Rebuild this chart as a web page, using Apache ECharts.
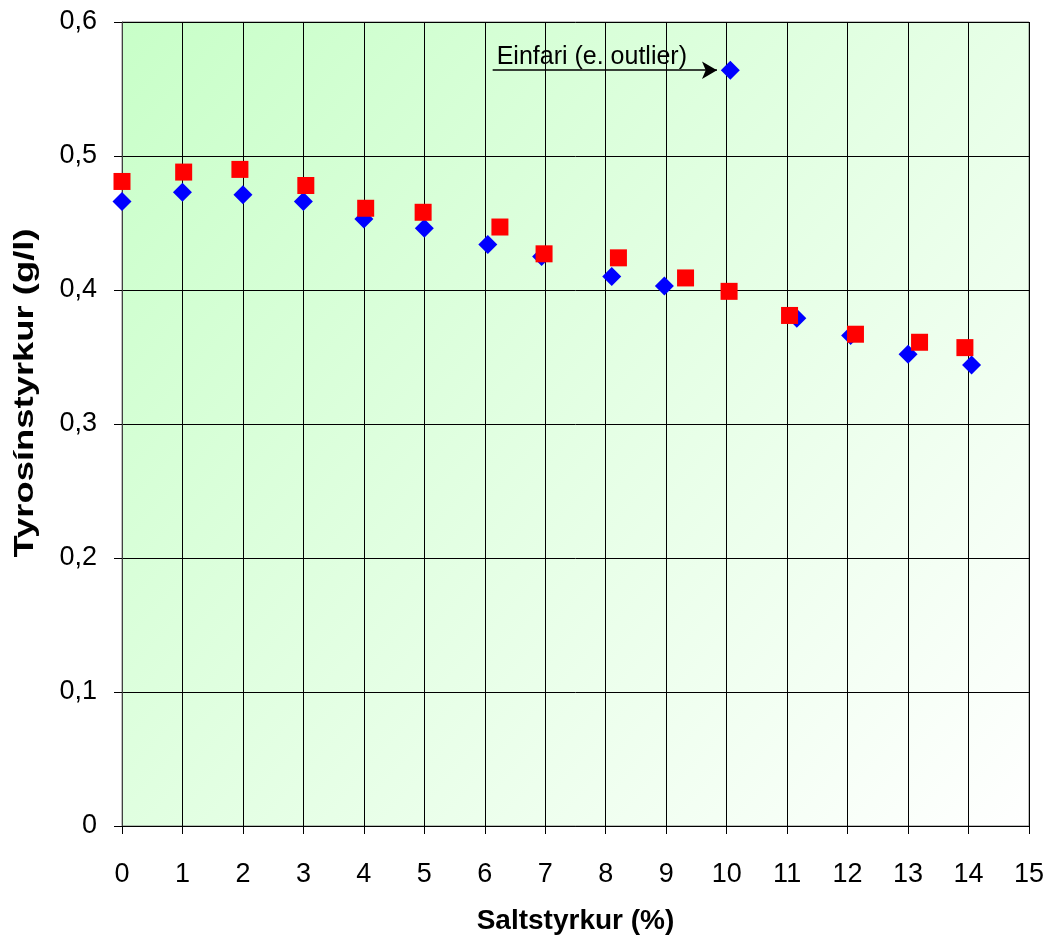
<!DOCTYPE html>
<html>
<head>
<meta charset="utf-8">
<script src="https://cdn.jsdelivr.net/npm/echarts@6/dist/echarts.min.js"></script>
<style>
  html, body { margin: 0; padding: 0; background: #ffffff; }
  #chart { width: 1047px; height: 939px; }
</style>
</head>
<body>
<div id="chart"></div>
<script>
// Tyrosine concentration vs. salt concentration, two replicate series
const saltBlue = [0, 1, 2, 3, 4, 5, 6.05, 6.94, 8.1, 8.97, 11.16, 12.05, 13.0, 14.05];
const tyrosineBlue = [0.466, 0.473, 0.471, 0.466, 0.453, 0.446, 0.434, 0.425, 0.410, 0.403, 0.379, 0.366, 0.352, 0.344];

const saltRed = [0, 1.02, 1.95, 3.04, 4.03, 4.98, 6.25, 6.98, 8.21, 9.32, 10.04, 11.04, 12.13, 13.19, 13.94];
const tyrosineRed = [0.481, 0.488, 0.490, 0.478, 0.461, 0.458, 0.447, 0.427, 0.424, 0.409, 0.399, 0.381, 0.367, 0.361, 0.357];

// The single outlier point and its label
const outlierSalt = 10.06;
const outlierTyrosine = 0.564;
const outlierLabel = 'Einfari (e. outlier)';
const arrowStartSalt = 6.13;

const xTicks = [0, 15, 1];      // min, max, step
const yTicks = [0, 0.6, 0.1];   // min, max, step

const xTitle = 'Saltstyrkur (%)';
const yTitle = 'Tyrosínstyrkur (g/l)';

const pair = (xs, ys) => xs.map((x, i) => [x, ys[i]]);

const font = 'Liberation Sans, Arial, sans-serif';
const chart = echarts.init(document.getElementById('chart'), null, { renderer: 'canvas' });

chart.setOption({
  animation: false,
  grid: {
    left: 122, right: 18, top: 22, bottom: 113,
    containLabel: false,
    outerBoundsMode: 'none',
    show: true,
    borderColor: '#808080',
    borderWidth: 1,
    backgroundColor: new echarts.graphic.LinearGradient(0, 0, 1, 1, [
      { offset: 0, color: '#c8ffc8' },
      { offset: 1, color: '#ffffff' }
    ])
  },
  // vertical axis title, drawn wide like the horizontal one
  graphic: [{
    type: 'text',
    x: 25,
    y: 393,
    rotation: Math.PI / 2,
    scaleX: 1.3,
    style: {
      text: yTitle,
      font: 'bold 28px ' + font,
      fill: '#000',
      textAlign: 'center',
      textVerticalAlign: 'middle'
    }
  }],
  xAxis: {
    type: 'value',
    min: xTicks[0], max: xTicks[1], interval: xTicks[2],
    name: xTitle,
    nameLocation: 'middle',
    nameGap: 81,
    nameTextStyle: { fontFamily: font, fontSize: 28, fontWeight: 'bold', color: '#000' },
    axisLine: { show: true, onZero: false, lineStyle: { color: '#000', width: 1 } },
    axisTick: { show: true, length: 8, inside: false, lineStyle: { color: '#000' } },
    axisLabel: { fontFamily: font, fontSize: 27, color: '#000', margin: 35 },
    splitLine: { show: true, lineStyle: { color: '#000', width: 1 } }
  },
  yAxis: {
    type: 'value',
    min: yTicks[0], max: yTicks[1], interval: yTicks[2],
    axisLine: { show: true, onZero: false, lineStyle: { color: '#404040', width: 1 } },
    axisTick: { show: true, length: 8, inside: false, lineStyle: { color: '#000' } },
    axisLabel: {
      fontFamily: font, fontSize: 27, color: '#000', margin: 25,
      formatter: v => (Math.round(v * 10) / 10).toString().replace('.', ',')
    },
    splitLine: { show: true, lineStyle: { color: '#000', width: 1 } }
  },
  series: [
    {
      name: 'blue',
      type: 'scatter',
      symbol: 'diamond',
      symbolSize: 19,
      itemStyle: { color: '#0000ff', opacity: 1 },
      data: pair(saltBlue, tyrosineBlue).concat([[outlierSalt, outlierTyrosine]]),
      z: 3,
      markLine: {
        silent: true,
        symbol: ['none', 'arrow'],
        symbolSize: [13, 15],
        lineStyle: { color: '#000', width: 1.5, type: 'solid' },
        label: {
          show: true,
          position: 'insideStartTop',
          formatter: outlierLabel,
          fontFamily: font,
          fontSize: 25,
          color: '#000',
          distance: [4, 1]
        },
        data: [[
          { coord: [arrowStartSalt, outlierTyrosine] },
          { coord: [outlierSalt - 0.22, outlierTyrosine] }
        ]]
      }
    },
    {
      name: 'red',
      type: 'scatter',
      symbol: 'rect',
      symbolSize: 17,
      itemStyle: { color: '#ff0000', opacity: 1 },
      data: pair(saltRed, tyrosineRed),
      z: 4
    }
  ]
});
</script>
</body>
</html>
